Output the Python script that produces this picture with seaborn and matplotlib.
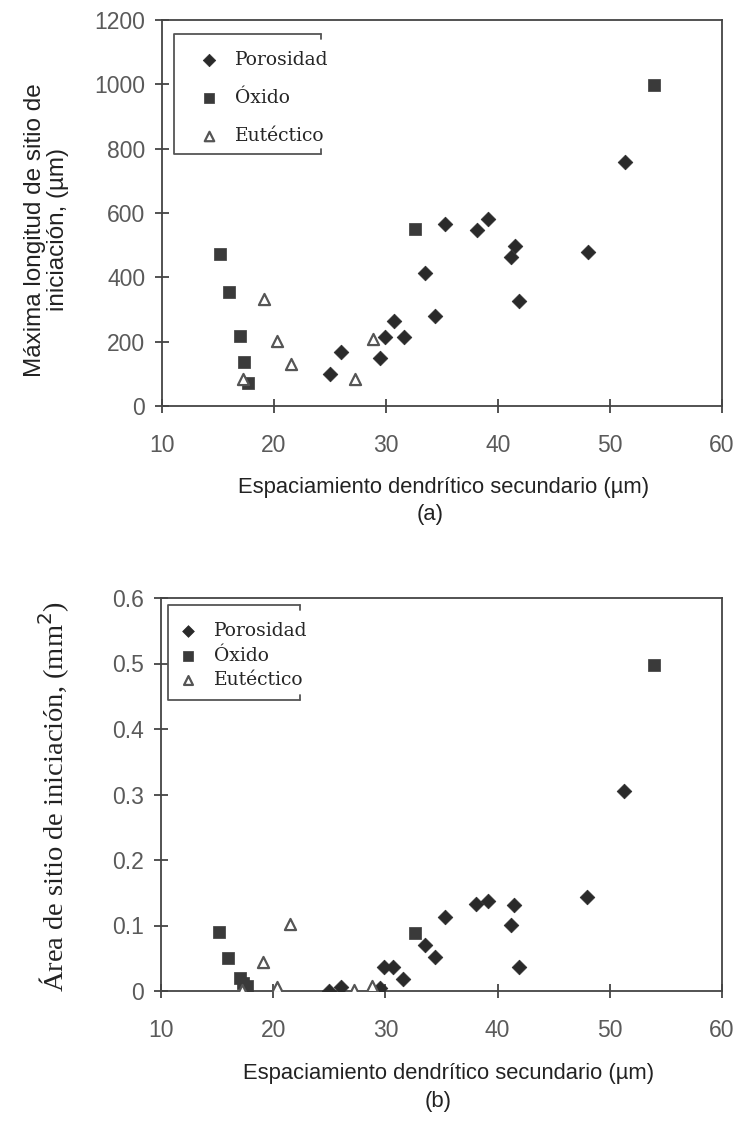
import matplotlib
matplotlib.use("Agg")
import matplotlib.pyplot as plt
from matplotlib.lines import Line2D
import seaborn as sns
import pandas as pd

# ---------------- data ----------------
categories = ["Porosidad", "Óxido", "Eutéctico"]

por_x = [51.3, 35.3, 38.1, 39.1, 41.5, 41.2, 48.0, 33.5, 41.9, 34.4, 30.7, 29.9, 31.6, 26.0, 29.5, 25.0]
por_len = [760, 565, 547, 581, 498, 462, 479, 414, 327, 281, 264, 214, 214, 167, 148, 101]
por_area = [0.306, 0.113, 0.133, 0.138, 0.132, 0.101, 0.143, 0.070, 0.037, 0.052, 0.037, 0.037, 0.018, 0.006, 0.004, 0.000]

ox_x = [53.9, 32.6, 15.2, 16.0, 17.0, 17.3, 17.7]
ox_len = [998, 550, 471, 354, 219, 138, 73]
ox_area = [0.498, 0.088, 0.090, 0.050, 0.020, 0.012, 0.008]

eu_x = [19.1, 20.3, 21.5, 17.2, 27.2, 28.8]
eu_len = [333, 201, 131, 85, 85, 208]
eu_area = [0.044, 0.006, 0.102, 0.001, 0.002, 0.008]

x_ticks = [10, 20, 30, 40, 50, 60]
len_ticks = [0, 200, 400, 600, 800, 1000, 1200]
area_ticks = [0, 0.1, 0.2, 0.3, 0.4, 0.5, 0.6]
area_labels = ["0", "0.1", "0.2", "0.3", "0.4", "0.5", "0.6"]

xlabel = "Espaciamiento dendrítico secundario (\u00b5m)"
ylabel_a = "Máxima longitud de sitio de\niniciación, (\u00b5m)"
ylabel_b = "Área de sitio de iniciación, (mm$^2$)"

# ---------------- style ----------------
sns.set_style("white")
plt.rcParams["font.family"] = ["Liberation Sans", "DejaVu Sans"]

SPINE = "#444444"
TICKLAB = "#5a5a5a"
C_DIA = "#2a2a2a"
C_SQ = "#3a3a3a"
C_TRI = "#555555"

fig = plt.figure(figsize=(7.4, 11.22), dpi=100)
W, H = 740, 1122
ax1 = fig.add_axes([162 / W, 1 - 406 / H, 560 / W, 386 / H])
ax2 = fig.add_axes([161 / W, 1 - 991 / H, 561 / W, 393 / H])


def draw(ax, ya_p, ya_o, ya_e):
    dp = pd.DataFrame({"x": por_x, "y": ya_p})
    do = pd.DataFrame({"x": ox_x, "y": ya_o})
    de = pd.DataFrame({"x": eu_x, "y": ya_e})
    sns.scatterplot(data=dp, x="x", y="y", ax=ax, marker="D", s=56, color=C_DIA,
                    edgecolor=C_DIA, linewidth=0.5, label=categories[0], zorder=3)
    sns.scatterplot(data=do, x="x", y="y", ax=ax, marker="s", s=66, color=C_SQ,
                    edgecolor=C_SQ, linewidth=0.5, label=categories[1], zorder=3)
    sns.scatterplot(data=de, x="x", y="y", ax=ax, marker="^", s=64, facecolor="white",
                    edgecolor=C_TRI, linewidth=1.6, label=categories[2], zorder=3)
    for sp in ax.spines.values():
        sp.set_visible(True)
        sp.set_color(SPINE)
        sp.set_linewidth(1.3)
    ax.set_xlim(10, 60)
    ax.set_xticks(x_ticks)
    ax.tick_params(axis="both", which="major", bottom=True, left=True, top=False, right=False,
                   direction="inout", length=10, width=1.3, color=SPINE,
                   labelcolor=TICKLAB, labelsize=16.5)
    ax.tick_params(axis="x", pad=15.5)
    ax.tick_params(axis="y", pad=7)
    ax.set_xlabel("")
    ax.set_ylabel("")


draw(ax1, por_len, ox_len, eu_len)
draw(ax2, por_area, ox_area, eu_area)

ax1.set_ylim(0, 1200)
ax1.set_yticks(len_ticks)
ax2.set_ylim(0, 0.6)
ax2.set_yticks(area_ticks)
ax2.set_yticklabels(area_labels)

# axis labels
ax1.text(-0.207, 0.456, ylabel_a, transform=ax1.transAxes, rotation=90, ha="center",
         va="center", fontsize=17.5, color="#222222", linespacing=1.05)
ax1.text(0.502, -0.21, xlabel, transform=ax1.transAxes, ha="center", va="center",
         fontsize=15.8, color="#222222")
ax1.text(0.479, -0.282, "(a)", transform=ax1.transAxes, ha="center", va="center",
         fontsize=15.8, color="#222222")

ax2.text(-0.19, 0.496, ylabel_b, transform=ax2.transAxes, rotation=90, ha="center",
         va="center", fontsize=20.5, color="#222222", family=["Liberation Serif", "DejaVu Serif"])
ax2.text(0.513, -0.209, xlabel, transform=ax2.transAxes, ha="center", va="center",
         fontsize=15.8, color="#222222")
ax2.text(0.494, -0.28, "(b)", transform=ax2.transAxes, ha="center", va="center",
         fontsize=15.8, color="#222222")

# legends
leg_font = {"family": ["DejaVu Serif"], "size": 13.5}
ax1.legend(loc="upper left", bbox_to_anchor=(0.067, 0.920), frameon=False, prop=leg_font,
           handlelength=1.0, handletextpad=0.89, labelspacing=1.07, borderpad=0,
           borderaxespad=0, markerscale=0.85)
ax2.legend(loc="upper left", bbox_to_anchor=(0.031, 0.938), frameon=False, prop=leg_font,
           handlelength=1.0, handletextpad=0.89, labelspacing=0.33, borderpad=0,
           borderaxespad=0, markerscale=0.8)


def legend_box(ax, l, r, t, b):
    kw = dict(transform=ax.transAxes, color="#555555", lw=1.3, clip_on=False, zorder=2)
    stub = 0.012
    ax.add_line(Line2D([r, l, l, r], [t, t, b, b], **kw))
    ax.add_line(Line2D([r, r], [t, t - stub], **kw))
    ax.add_line(Line2D([r, r], [b, b + stub], **kw))


legend_box(ax1, 0.021, 0.284, 0.964, 0.653)
legend_box(ax2, 0.0125, 0.248, 0.982, 0.740)

fig.savefig("out.png", dpi=100)
